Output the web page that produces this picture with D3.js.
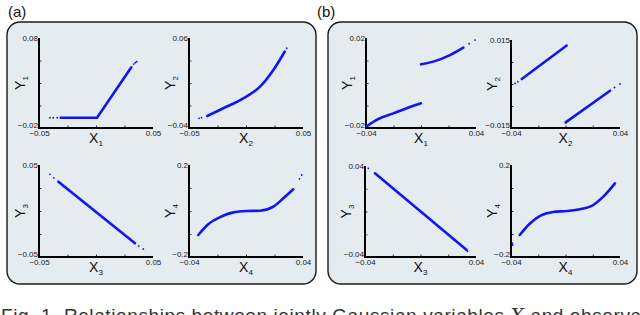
<!DOCTYPE html>
<html>
<head>
<meta charset="utf-8">
<script src="https://cdn.jsdelivr.net/npm/d3@7"></script>
<style>
  body { margin: 0; background: #fff; }
  svg { display: block; font-family: "Liberation Sans", Arial, sans-serif; }
  .tick text { font-size: 8px; fill: #222; }
</style>
</head>
<body>
<svg id="fig" width="640" height="315"></svg>
<script>
// ---- data ----
// panel (a)
var a1Curve = [[-0.031, -0.0086], [0.0009, -0.0086], [0.031, 0.0475]];
var a1Dots  = [[-0.0404, -0.0086], [-0.0375, -0.0086], [-0.034, -0.0086], [0.033, 0.051], [0.0345, 0.0525], [0.0357, 0.0537]];
var a2Curve = [[-0.034, -0.0267], [-0.0199, -0.0181], [-0.0024, -0.007], [0.0123, 0.0059], [0.024, 0.0244], [0.034, 0.045]];
var a2Dots  = [[-0.0412, -0.0292], [-0.039, -0.0285], [0.0357, 0.0486]];
var a3Curve = [[-0.033, 0.0318], [0.0342, -0.0351]];
var a3Dots  = [[-0.0404, 0.0399], [-0.037, 0.036], [0.0375, -0.038], [0.0415, -0.0413]];
var a4Curve = [[-0.0335, -0.1043], [-0.0265, -0.0575], [-0.0182, -0.0268], [-0.0089, -0.006], [0.0005, 0], [0.0098, 0.0013], [0.0192, 0.0187], [0.0262, 0.0552], [0.0332, 0.0943]];
var a4Dots  = [[0.0375, 0.14], [0.0391, 0.1565]];
// panel (b)
var b1Lower = [[-0.0391, -0.0191], [-0.0322, -0.0164], [-0.0201, -0.0135], [-0.0104, -0.0112], [0, -0.009]];
var b1Upper = [[0, 0.0083], [0.0089, 0.0095], [0.0211, 0.0124], [0.0308, 0.0157]];
var b1Dots  = [[0.035, 0.0175], [0.0393, 0.0191]];
var b2Upper = [[-0.0321, 0.0017], [0.0009, 0.0131]];
var b2Lower = [[0.0001, -0.0131], [0.0327, -0.0023]];
var b2Dots  = [[-0.0371, 0.0002], [-0.035, 0.0008], [0.036, -0.0012], [0.04, 0]];
var b3Curve = [[-0.0328, 0.0336], [0.0333, -0.0338]];
var b3Dots  = [[-0.0376, 0.038], [0.034, -0.035]];
var b4Curve = [[-0.0336, -0.1043], [-0.0263, -0.0555], [-0.0187, -0.0214], [-0.009, -0.004], [0.0009, 0], [0.0106, 0.0074], [0.0204, 0.0261], [0.0277, 0.0622], [0.0363, 0.1204]];
var b4Dots  = [[-0.0388, -0.1478], [-0.039, -0.14]];

// axis ranges, tick labels
var xDomA = [-0.05, 0.05], xDomA4 = [-0.04, 0.04], xDomB = [-0.04, 0.04];
var yDoms = {
  a1: [-0.02, 0.08], a2: [-0.04, 0.06], a3: [-0.05, 0.05], a4: [-0.2, 0.2],
  b1: [-0.02, 0.02], b2: [-0.015, 0.015], b3: [-0.04, 0.04], b4: [-0.2, 0.2]
};
var tickFmt = {
  "-0.05": "\u22120.05", "0.05": "0.05", "-0.04": "\u22120.04", "0.04": "0.04",
  "-0.02": "\u22120.02", "0.02": "0.02", "0.08": "0.08", "0.06": "0.06",
  "-0.015": "\u22120.015", "0.015": "0.015", "-0.2": "\u22120.2", "0.2": "0.2"
};

var svg = d3.select("#fig");
var blue = "#1414f0";

// rounded panels
[[7, 22, 309, 262], [328, 22, 309, 262]].forEach(function(r) {
  svg.append("rect")
    .attr("x", r[0]).attr("y", r[1]).attr("width", r[2]).attr("height", r[3])
    .attr("rx", 13).attr("ry", 13)
    .attr("fill", "#e4ecf0")
    .attr("stroke", "#1a1a1a")
    .attr("stroke-width", 1.4);
});

svg.append("text").attr("x", 8).attr("y", 17).attr("font-size", 15).attr("fill", "#111").text("(a)");
svg.append("text").attr("x", 317).attr("y", 17).attr("font-size", 15).attr("fill", "#111").text("(b)");

// subplot list: [left, top, width, height, xDomain, yDomain, curves, dots, idx, smooth]
var plots = [
  [39, 38, 114, 90, xDomA, yDoms.a1, [a1Curve], a1Dots, 1, false],
  [189, 38, 114, 90, xDomA, yDoms.a2, [a2Curve], a2Dots, 2, true],
  [39, 165, 114, 92, xDomA, yDoms.a3, [a3Curve], a3Dots, 3, false],
  [189, 165, 114, 92, xDomA4, yDoms.a4, [a4Curve], a4Dots, 4, true],
  [366, 38, 110, 90, xDomB, yDoms.b1, [b1Lower, b1Upper], b1Dots, 1, true],
  [511, 40, 109, 88, xDomB, yDoms.b2, [b2Upper, b2Lower], b2Dots, 2, false],
  [365, 166, 111, 91, xDomB, yDoms.b3, [b3Curve], b3Dots, 3, false],
  [511, 165, 109, 92, xDomB, yDoms.b4, [b4Curve], b4Dots, 4, true]
];

plots.forEach(function(p) {
  var w = p[2], h = p[3];
  var g = svg.append("g").attr("transform", "translate(" + p[0] + "," + p[1] + ")");
  var x = d3.scaleLinear().domain(p[4]).range([0, w]);
  var y = d3.scaleLinear().domain(p[5]).range([h, 0]);

  var qx = d3.range(1, 4).map(function(k) { return p[4][0] + k * (p[4][1] - p[4][0]) / 4; });
  var qy = d3.range(1, 4).map(function(k) { return p[5][0] + k * (p[5][1] - p[5][0]) / 4; });

  // minor inward ticks
  g.append("g").attr("transform", "translate(0," + h + ")")
    .call(d3.axisBottom(x).tickValues(qx).tickSize(-2.5).tickFormat(""))
    .call(function(s) { s.select(".domain").remove(); s.selectAll("line").attr("stroke", "#333"); });
  g.append("g")
    .call(d3.axisLeft(y).tickValues(qy).tickSize(-2.5).tickFormat(""))
    .call(function(s) { s.select(".domain").remove(); s.selectAll("line").attr("stroke", "#333"); });

  // end labels
  g.append("g").attr("transform", "translate(0," + h + ")")
    .call(d3.axisBottom(x).tickValues(p[4]).tickSize(0).tickPadding(2)
      .tickFormat(function(d) { return tickFmt[String(d)]; }))
    .call(function(s) { s.select(".domain").remove(); });
  g.append("g")
    .call(d3.axisLeft(y).tickValues(p[5]).tickSize(0).tickPadding(1)
      .tickFormat(function(d) { return tickFmt[String(d)]; }))
    .call(function(s) {
      s.select(".domain").remove();
      s.selectAll(".tick text").attr("dy", function(d) { return d === p[5][0] ? "-0.1em" : "0.32em"; });
    });

  // thick axis lines
  g.append("path")
    .attr("d", "M0,0V" + h + "H" + w)
    .attr("fill", "none").attr("stroke", "#000").attr("stroke-width", 2);

  // data
  var line = d3.line().x(function(d) { return x(d[0]); }).y(function(d) { return y(d[1]); })
    .curve(p[9] ? d3.curveMonotoneX : d3.curveLinear);
  p[6].forEach(function(c) {
    g.append("path").datum(c)
      .attr("d", line)
      .attr("fill", "none").attr("stroke", blue)
      .attr("stroke-width", 2.6).attr("stroke-linecap", "round");
  });
  g.selectAll(".dot").data(p[7]).enter().append("circle")
    .attr("cx", function(d) { return x(d[0]); })
    .attr("cy", function(d) { return y(d[1]); })
    .attr("r", 0.9).attr("fill", blue);

  // titles
  var xt = g.append("text").attr("x", w / 2).attr("y", h + 15)
    .attr("text-anchor", "middle").attr("font-size", 14).attr("fill", "#111");
  xt.append("tspan").text("X");
  xt.append("tspan").attr("font-size", 8).attr("dy", 3).text(p[8]);

  var yt = g.append("text")
    .attr("transform", "translate(-14," + (h / 2) + ") rotate(-90)")
    .attr("text-anchor", "middle").attr("font-size", 14).attr("fill", "#111");
  yt.append("tspan").text("Y");
  yt.append("tspan").attr("font-size", 8).attr("dy", 3).text(p[8]);
});

// caption, cut by the bottom edge as in the original
var cap = svg.append("text").attr("x", 1).attr("y", 322).attr("font-size", 19)
  .attr("letter-spacing", 0.6).attr("fill", "#333");
cap.append("tspan").text("Fig. 1.  Relationships between jointly Gaussian variables ");
cap.append("tspan").attr("font-family", "'DejaVu Serif', serif").attr("font-style", "italic").text("X");
cap.append("tspan").text("  and observations");
</script>
</body>
</html>
